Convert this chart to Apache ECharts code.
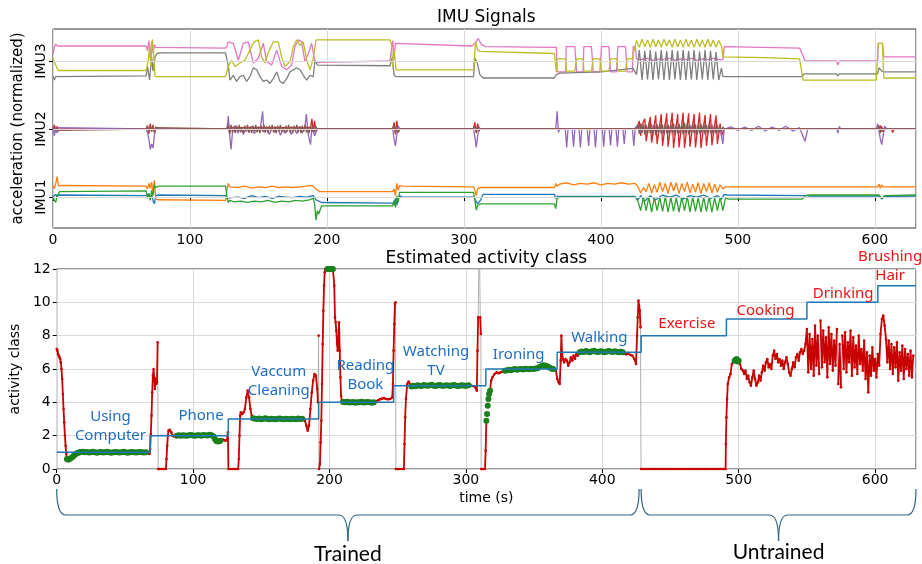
<!DOCTYPE html>
<html>
<head>
<meta charset="utf-8">
<title>IMU Signals / Estimated activity class</title>
<script src="https://cdn.jsdelivr.net/npm/echarts@6/dist/echarts.min.js"></script>
<style>html,body{margin:0;padding:0;background:#fff}#main{width:922px;height:564px}</style>
</head>
<body>
<div id="main"></div>
<script>
// tick labels of the top panel
var imuNames = ['IMU1', 'IMU2', 'IMU3'];
var timeMax = 630;

// IMU signals, [time (s), value relative to the IMU baseline]
var imu1Blue = [[0,0.0],[2,0.04],[3,0.0],[4,0.03],[68,0.02],[69,0.0],[70,0.05],[71,-0.02],[72,0.03],[73,-0.05],[74,-0.1],[75,0.02],[77,0.03],[126,0.02],[127,-0.02],[128,-0.04],[130,-0.01],[135,0.0],[140,-0.02],[145,0.02],[150,-0.01],[155,0.01],[160,-0.02],[165,0.01],[170,0.0],[175,-0.01],[180,0.01],[185,0.0],[190,0.02],[192,-0.04],[194,-0.06],[196,-0.08],[248,-0.09],[249,-0.12],[250,-0.02],[251,-0.12],[252,-0.02],[253,0.02],[255,0.0],[307,0.0],[308,-0.02],[310,-0.1],[312,-0.05],[314,0.04],[366,0.04],[367,-0.02],[368,0.01],[425,0.01],[427,-0.04],[429,0.02],[432,-0.06],[436,0.02],[440,-0.04],[445,0.03],[450,0.0],[455,0.03],[460,-0.03],[465,0.02],[470,0.0],[475,0.03],[480,-0.02],[485,0.02],[488,-0.03],[490,0.04],[492,0.03],[550,0.02],[552,0.015],[603,0.015],[605,-0.03],[607,0.01],[630,0.015]];
var imu1Orange = [[0,0.17],[1,0.12],[2,0.2],[3,0.3],[4,0.16],[6,0.17],[68,0.16],[69,0.12],[70,0.2],[71,0.13],[72,0.22],[73,0.05],[74,0.25],[75,-0.03],[77,-0.04],[126,-0.05],[127,0.1],[128,0.2],[129,0.15],[135,0.14],[140,0.16],[145,0.13],[150,0.15],[155,0.14],[160,0.16],[165,0.14],[170,0.15],[175,0.14],[180,0.15],[185,0.16],[189,0.17],[191,0.14],[193,0.1],[195,0.08],[248,0.08],[249,0.12],[250,0.02],[251,0.2],[252,0.1],[253,0.17],[255,0.16],[307,0.15],[308,0.1],[309,0.02],[310,0.12],[312,0.14],[366,0.14],[367,0.2],[368,0.16],[370,0.19],[375,0.21],[380,0.18],[385,0.2],[390,0.19],[395,0.21],[400,0.18],[405,0.2],[410,0.19],[415,0.21],[420,0.19],[425,0.2],[427,0.15],[429,0.06],[431,0.14],[433,0.08],[435,0.2],[437,0.06],[439,0.18],[441,0.07],[443,0.22],[445,0.08],[447,0.2],[449,0.05],[451,0.22],[453,0.09],[455,0.21],[457,0.05],[459,0.2],[461,0.08],[463,0.22],[465,0.06],[467,0.19],[469,0.07],[471,0.21],[473,0.05],[475,0.2],[477,0.08],[479,0.21],[481,0.06],[483,0.19],[485,0.07],[487,0.18],[489,0.12],[491,0.15],[602,0.15],[603,0.19],[604,0.13],[605,0.18],[606,0.15],[630,0.15]];
var imu1Green = [[0,0.0],[1,-0.05],[2,-0.08],[3,0.02],[5,0.08],[68,0.09],[69,-0.02],[70,0.05],[71,-0.05],[72,0.1],[73,0.02],[74,0.18],[75,0.14],[77,0.16],[126,0.16],[127,0.0],[128,-0.08],[129,-0.05],[132,-0.07],[137,-0.06],[142,-0.08],[147,-0.06],[152,-0.07],[157,-0.05],[162,-0.08],[167,-0.06],[172,-0.07],[177,-0.05],[182,-0.06],[187,-0.04],[190,-0.02],[191,-0.1],[192,-0.34],[193,-0.2],[194,-0.25],[196,-0.13],[248,-0.13],[249,-0.05],[250,-0.15],[251,0.02],[252,-0.08],[253,0.07],[255,0.07],[307,0.07],[308,-0.05],[309,-0.19],[310,-0.12],[312,-0.1],[366,-0.1],[367,-0.17],[368,-0.02],[370,0.0],[425,0.0],[427,-0.06],[429,-0.2],[431,0.0],[433,-0.2],[435,0.0],[437,-0.22],[439,-0.01],[441,-0.2],[443,0.0],[445,-0.21],[447,0.01],[449,-0.22],[451,0.0],[453,-0.21],[455,-0.01],[457,-0.22],[459,0.0],[461,-0.2],[463,0.01],[465,-0.22],[467,0.0],[469,-0.21],[471,-0.01],[473,-0.22],[475,0.0],[477,-0.21],[479,0.0],[481,-0.22],[483,-0.01],[485,-0.2],[487,0.0],[489,-0.2],[491,-0.01],[493,-0.03],[547,-0.03],[549,0.02],[552,0.03],[603,0.03],[605,-0.02],[607,0.02],[630,0.03]];
var imu2Red = [[0,0.0],[1,0.06],[2,-0.05],[3,0.04],[4,-0.03],[5,0.0],[68,0.0],[69,0.05],[70,-0.07],[71,0.08],[72,-0.04],[73,0.06],[74,-0.05],[75,0.03],[76,0.0],[127,0.0],[128,0.08],[129,-0.06],[130,0.02],[188,0.02],[189,0.15],[190,-0.05],[191,0.12],[192,-0.04],[193,0.0],[248,0.0],[249,0.1],[250,-0.08],[251,0.12],[252,-0.05],[253,0.0],[307,0.0],[308,0.1],[309,-0.06],[310,0.08],[311,0.0],[426,0.0],[428,0.12],[429,-0.1],[430,0.06],[432,0.15],[433,-0.18],[436,0.18],[437,-0.2],[440,0.2],[441,-0.22],[444,0.22],[445,-0.25],[448,0.23],[449,-0.26],[452,0.24],[453,-0.28],[456,0.22],[457,-0.27],[460,0.24],[461,-0.28],[464,0.23],[465,-0.26],[468,0.22],[469,-0.27],[472,0.24],[473,-0.28],[476,0.21],[477,-0.25],[480,0.22],[481,-0.24],[484,0.2],[485,-0.22],[487,0.08],[488,-0.1],[490,0.0],[603,0.0],[604,0.05],[605,-0.04],[606,0.0],[612,0.0],[613,-0.05],[614,0.0],[630,0.0]];
var imu2Purple = [[0,0.0],[1,-0.1],[2,0.03],[3,-0.06],[4,0.02],[5,0.0],[68,0.0],[69,-0.05],[70,-0.15],[71,-0.3],[72,-0.22],[73,-0.28],[74,-0.1],[75,0.03],[76,0.0],[127,0.0],[128,0.19],[129,-0.1],[130,-0.3],[131,-0.05],[133,0.05],[135,-0.06],[137,0.02],[139,-0.08],[141,0.03],[143,-0.05],[145,0.04],[147,-0.07],[149,0.02],[151,-0.04],[153,0.26],[154,-0.05],[156,0.02],[158,-0.08],[160,0.03],[162,-0.05],[164,0.02],[166,-0.09],[168,0.01],[170,-0.06],[172,0.03],[174,-0.08],[176,0.02],[178,-0.07],[180,0.04],[182,-0.06],[184,0.05],[185,0.22],[186,-0.05],[188,-0.23],[189,0.02],[191,-0.1],[193,0.0],[248,0.0],[249,-0.15],[250,-0.25],[251,-0.08],[252,0.05],[253,0.0],[307,0.0],[308,-0.12],[309,-0.27],[310,-0.1],[311,0.03],[312,0.0],[367,0.0],[368,0.26],[369,-0.05],[370,0.0],[374,0.0],[375,-0.27],[376,0.0],[379,0.0],[380,-0.26],[381,0.0],[384,0.0],[385,-0.27],[386,0.0],[390,0.0],[391,-0.25],[392,0.0],[395,0.0],[396,-0.27],[397,0.0],[401,0.0],[402,-0.26],[403,0.0],[406,0.0],[407,-0.24],[408,0.0],[411,0.0],[412,-0.26],[413,0.0],[416,0.0],[417,-0.22],[418,0.0],[423,0.0],[424,-0.25],[425,0.02],[427,0.06],[429,-0.05],[431,0.05],[433,-0.06],[435,0.04],[437,-0.05],[439,0.06],[441,-0.04],[443,0.05],[445,-0.06],[447,0.04],[449,-0.05],[451,0.06],[453,-0.04],[455,0.05],[457,-0.06],[459,0.04],[461,-0.05],[463,0.06],[465,-0.04],[467,0.05],[469,-0.06],[471,0.04],[473,-0.05],[475,0.06],[477,-0.04],[479,0.05],[481,-0.06],[483,0.04],[485,-0.05],[487,0.03],[489,-0.22],[490,0.0],[495,0.03],[500,-0.02],[505,0.03],[510,-0.02],[515,0.04],[520,-0.03],[525,0.03],[530,-0.02],[535,0.04],[540,-0.03],[545,0.02],[549,-0.18],[551,0.0],[572,0.0],[573,-0.06],[574,0.04],[575,0.0],[601,0.0],[602,0.08],[604,-0.15],[605,-0.23],[606,-0.1],[607,0.04],[609,0.0],[630,0.0]];
var imu2Brown = [[0,0],[1,0.03],[2,-0.03],[3,0.02],[4,-0.02],[5,0],[68,0],[69,0.04],[70,-0.04],[71,0.05],[72,-0.03],[73,0.04],[74,-0.05],[75,0.02],[76,0],[127,0],[128,0.05],[129,-0.07],[130,0.06],[131,-0.05],[132,0.04],[133,-0.06],[134,0.05],[135,-0.03],[136,0.06],[137,-0.05],[138,0.03],[139,-0.06],[140,0.05],[141,-0.04],[142,0.06],[143,-0.05],[144,0.04],[145,-0.06],[146,0.05],[147,-0.03],[148,0.06],[149,-0.05],[150,0.04],[151,-0.06],[152,0.05],[153,-0.04],[154,0.06],[155,-0.05],[156,0.04],[157,-0.06],[158,0.05],[159,-0.03],[160,0.06],[161,-0.05],[162,0.04],[163,-0.06],[164,0.05],[165,-0.04],[166,0.06],[167,-0.05],[168,0.03],[169,-0.06],[170,0.05],[171,-0.04],[172,0.06],[173,-0.05],[174,0.04],[175,-0.06],[176,0.05],[177,-0.03],[178,0.06],[179,-0.05],[180,0.04],[181,-0.06],[182,0.05],[183,-0.04],[184,0.06],[185,-0.05],[186,0.04],[187,-0.06],[188,0.05],[189,-0.04],[190,0.06],[191,-0.05],[192,0.03],[193,0],[248,0],[249,0.05],[250,-0.06],[251,0.04],[252,-0.05],[253,0],[307,0],[308,0.05],[309,-0.05],[310,0.04],[311,-0.03],[312,0],[426,0],[427,0.06],[428,-0.07],[429,0.08],[430,-0.06],[431,0.07],[432,-0.08],[433,0.06],[434,-0.07],[435,0.09],[436,-0.06],[437,0.07],[438,-0.08],[439,0.06],[440,-0.09],[441,0.07],[442,-0.06],[443,0.08],[444,-0.07],[445,0.06],[446,-0.08],[447,0.09],[448,-0.06],[449,0.07],[450,-0.08],[451,0.06],[452,-0.07],[453,0.08],[454,-0.09],[455,0.06],[456,-0.07],[457,0.08],[458,-0.06],[459,0.07],[460,-0.08],[461,0.09],[462,-0.06],[463,0.07],[464,-0.08],[465,0.06],[466,-0.07],[467,0.08],[468,-0.06],[469,0.07],[470,-0.09],[471,0.06],[472,-0.07],[473,0.08],[474,-0.06],[475,0.07],[476,-0.08],[477,0.06],[478,-0.07],[479,0.08],[480,-0.06],[481,0.07],[482,-0.08],[483,0.06],[484,-0.07],[485,0.06],[486,-0.05],[487,0.05],[488,-0.04],[489,0.03],[490,0],[602,0],[603,0.05],[604,-0.06],[605,0.04],[606,-0.04],[607,0],[630,0]];
var imu3Pink = [[0,0.1],[1,0.2],[2,0.25],[3,0.22],[68,0.22],[69,0.15],[70,0.3],[71,0.05],[72,0.28],[73,0.12],[74,0.24],[75,0.2],[76,0.19],[126,0.19],[127,0.22],[128,0.28],[131.6,0.26],[135.3,0.01],[138.9,0.26],[142.6,0.28],[146.2,-0.03],[149.9,0.04],[153.5,0.26],[156,-0.01],[159.6,-0.06],[163.3,0.16],[166.9,-0.08],[170.6,-0.13],[174.2,-0.06],[176.6,0.21],[179.1,0.31],[181.5,0.28],[183.9,-0.01],[186.4,0.11],[188.8,0.26],[191.2,-0.01],[193,-0.02],[246,0.0],[247,0.16],[248,0.3],[249,0.04],[250,0.26],[251,0.25],[306,0.22],[308.7,0.28],[310.4,0.33],[312.8,0.24],[316,0.21],[366,0.2],[367.5,0.2],[368,-0.16],[374.4,-0.16],[374.6,0.21],[381,0.21],[382.2,-0.16],[387,-0.16],[387.5,0.21],[393.1,0.21],[394.3,-0.16],[399.2,-0.16],[400.4,0.21],[405.8,0.21],[407,-0.16],[411.4,-0.16],[412.3,0.21],[417.9,0.21],[419.1,-0.16],[423,-0.16],[423.5,0.21],[425,0.21],[426,0.03],[430,0.02],[434,0.04],[438,0.01],[442,0.03],[446,0.02],[450,0.04],[454,0.01],[458,0.03],[462,0.02],[466,0.04],[470,0.01],[474,0.03],[478,0.02],[482,0.04],[486,0.02],[489,0.02],[490,0.21],[545,0.19],[547,0.1],[549,0.0],[572,0.0],[573,-0.06],[574,0.0],[602,0.0],[602.5,0.26],[605.5,0.26],[606.5,0.06],[630,0.06]];
var imu3Gray = [[0,-0.22],[1,-0.28],[2,-0.23],[68,-0.22],[69,-0.08],[70.5,-0.28],[72,0.06],[73,-0.15],[74.5,0.06],[76,0.11],[78,0.12],[126,0.12],[128,-0.08],[129.2,-0.28],[131.6,-0.21],[134,-0.3],[136.5,-0.23],[138.9,-0.21],[141.4,-0.3],[143.8,-0.23],[146.2,-0.1],[148.7,-0.13],[151.1,-0.23],[153.5,-0.3],[156,-0.28],[158.4,-0.33],[160.8,-0.26],[163.3,-0.16],[165.7,-0.3],[168.1,-0.33],[170.6,-0.26],[173,-0.16],[175.4,-0.13],[177.9,-0.1],[180.3,-0.13],[182.7,-0.21],[185.2,-0.28],[187.6,-0.21],[190,-0.23],[191.2,0.01],[193,-0.06],[246,-0.07],[247.5,0.04],[249,-0.2],[250,-0.23],[307,-0.23],[308,0.04],[309.8,-0.03],[311.6,-0.2],[314,-0.25],[366,-0.25],[367.5,-0.2],[370,-0.18],[400,-0.16],[423.5,-0.11],[426,-0.2],[428,0.16],[430,-0.28],[432,0.15],[434,-0.27],[436,0.16],[438,-0.28],[440,0.14],[442,-0.27],[444,0.16],[446,-0.28],[448,0.15],[450,-0.28],[452,0.16],[454,-0.27],[456,0.15],[458,-0.28],[460,0.16],[462,-0.28],[464,0.15],[466,-0.27],[468,0.16],[470,-0.28],[472,0.14],[474,-0.27],[476,0.16],[478,-0.28],[480,0.15],[482,-0.27],[484,0.13],[486,-0.28],[488,-0.1],[489,-0.23],[547,-0.23],[548,-0.19],[572,-0.19],[573,-0.22],[574,-0.19],[602,-0.19],[603,-0.1],[605,-0.15],[607,-0.16],[630,-0.16]];
var imu3Olive = [[0,0.04],[1,0.02],[3,-0.11],[4,-0.14],[68,-0.14],[69.6,0.01],[70.5,0.2],[71.5,-0.08],[72.5,0.32],[73.5,0.1],[74.5,-0.23],[126,-0.23],[128,-0.08],[130.4,0.01],[132.8,-0.08],[136.5,-0.03],[140.1,0.01],[143.8,0.16],[146.7,0.28],[149.9,0.31],[152.3,0.06],[154.7,-0.03],[157.9,0.16],[160.8,0.28],[164.5,0.28],[166.9,0.06],[169.3,-0.08],[173,-0.01],[175.4,0.21],[177.9,0.31],[180.3,0.23],[182.7,0.28],[185.2,0.01],[187.6,-0.13],[190,0.04],[192,0.31],[246,0.31],[247,0.26],[248,-0.08],[249,0.16],[250.5,-0.13],[307,-0.13],[308.5,0.28],[310,0.16],[312,0.14],[366,0.11],[367.5,-0.16],[368,0.03],[374.4,0.03],[374.6,-0.15],[381,-0.15],[382.2,0.03],[387,0.03],[387.5,-0.15],[393.1,-0.15],[394.3,0.03],[399.2,0.03],[400.4,-0.15],[405.8,-0.15],[407,0.03],[411.4,0.03],[412.3,-0.15],[417.9,-0.15],[419.1,0.03],[423,0.03],[423.5,0.1],[426,0.3],[428,0.2],[430,0.32],[432,0.21],[434,0.31],[436,0.2],[438,0.32],[440,0.21],[442,0.31],[444,0.2],[446,0.32],[448,0.22],[450,0.31],[452,0.2],[454,0.32],[456,0.21],[458,0.31],[460,0.2],[462,0.32],[464,0.21],[466,0.31],[468,0.2],[470,0.32],[472,0.21],[474,0.31],[476,0.2],[478,0.32],[480,0.21],[482,0.31],[484,0.2],[486,0.3],[488,0.22],[489,0.06],[520,0.05],[545,0.03],[547.6,-0.28],[601,-0.28],[602.4,0.26],[605.5,0.26],[606.5,-0.25],[630,-0.25]];

// ground truth class: start time of each activity and its class
var classStart = [0, 68.5, 125.8, 192, 247, 314.6, 366.9, 428.5, 491, 550, 602, 630];
var classValue = [1, 2, 3, 4, 5, 6, 7, 8, 9, 10, 11, 11];

// estimated class, [time (s), class]
var predicted = [[0,7.2],[0.5,7.1],[1,6.9],[1.5,6.8],[2,6.7],[2.5,6.6],[3,6.4],[3.5,6.0],[4,5.4],[4.5,4.5],[5,3.6],[5.5,2.8],[6,2.0],[6.5,1.4],[7,0.9],[7.5,0.6],[8.5,0.55],[9.5,0.6],[10.5,0.66],[11.5,0.72],[12.5,0.8],[13.5,0.87],[14.5,0.93],[15.5,0.97],[16.5,0.99],[17.5,1.02],[19,1.03],[20.5,1.0],[22,1.02],[23.5,0.99],[25,1.01],[26.5,1.03],[28,1.0],[29.5,0.98],[31,1.01],[32.5,1.02],[34,0.99],[35.5,1.0],[37,1.03],[38.5,1.01],[40,0.98],[41.5,1.0],[43,1.02],[44.5,1.01],[46,0.99],[47.5,1.0],[49,1.03],[50.5,1.0],[52,0.98],[53.5,1.01],[55,1.02],[56.5,1.0],[58,0.99],[59.5,1.01],[61,1.02],[62.5,1.0],[64,0.99],[65.5,1.01],[67,0.95],[68,0.9],[68.5,1.2],[69,2.1],[69.5,3.2],[70,4.6],[70.5,5.6],[71,6.0],[71.5,5.5],[72,4.8],[72.5,5.4],[73,5.1],[73.5,5.2],[74,7.6],[74.4,0],[75.5,0],[77,0],[78.5,0],[80,0],[80.5,0.6],[81,1.4],[81.5,2.0],[82,2.3],[83,2.35],[84,2.2],[85,2.0],[86,1.95],[87,1.96],[88,2.0],[89.5,2.02],[91,2.0],[92.5,2.03],[94,2.01],[95.5,1.99],[97,2.02],[98.5,2.04],[100,2.01],[101.5,2.0],[103,2.03],[104.5,2.02],[106,2.0],[107.5,2.04],[109,2.03],[110.5,2.01],[112,2.05],[113.5,2.03],[115,1.95],[116,1.8],[117,1.68],[118,1.65],[119,1.66],[120,1.7],[121,1.74],[122,1.76],[123,1.72],[124,1.7],[125,1.8],[125.5,2.2],[125.9,0],[127.5,0],[129,0],[130.5,0],[132,0],[133,0],[133.5,0.6],[134,2.0],[134.5,3.2],[135,3.4],[136,3.3],[137,3.4],[138,3.6],[139,4.3],[140,4.7],[141,4.3],[142,3.6],[143,3.2],[144,3.05],[145.5,3.02],[147,3.0],[148.5,3.03],[150,2.98],[151.5,3.01],[153,3.04],[154.5,3.0],[156,2.99],[157.5,3.02],[159,3.0],[160.5,2.98],[162,3.01],[163.5,3.03],[165,3.0],[166.5,2.99],[168,3.01],[169.5,3.0],[171,2.98],[172.5,3.02],[174,3.0],[175.5,2.99],[177,3.03],[178.5,3.0],[180,3.01],[181,3.05],[182,2.9],[183,2.6],[184,2.3],[185,2.6],[186,3.6],[187,4.6],[188,5.3],[189,5.7],[190,5.6],[191,4.8],[191.5,4.0],[192,8.0],[192.3,0],[193,0.3],[193.5,1.6],[194,2.9],[194.5,5.1],[195,7.5],[195.5,9.5],[196,11.0],[196.5,11.8],[197,12.3],[198,12.5],[198.5,12],[199.5,12],[200.5,12],[201.5,12],[202.5,12],[203.5,11.0],[204,9.1],[204.5,8.8],[205,8.3],[205.5,7.5],[206,7.1],[206.5,7.6],[207,8.8],[207.5,7.1],[208,5.5],[208.5,4.4],[209,4.1],[210,4.02],[211.5,4.0],[213,4.03],[214.5,3.99],[216,4.0],[217.5,4.02],[219,3.98],[220.5,4.01],[222,4.0],[223.5,4.03],[225,3.99],[226.5,4.0],[228,4.02],[229.5,4.0],[231,3.98],[232.5,4.01],[234,4.05],[235.5,4.12],[237,4.18],[238.5,4.22],[240,4.25],[241.5,4.2],[243,4.18],[244.5,4.2],[246,4.3],[246.5,5.1],[247,7.1],[247.5,8.7],[248,9.9],[248.4,10.0],[248.7,0],[250,0],[251.5,0],[253,0],[254.5,0],[255,1.5],[255.5,3.1],[256,4.2],[257,5.1],[258,5.25],[259,5.1],[260,4.95],[261.5,5.0],[263,4.97],[264.5,5.03],[266,5.0],[267.5,4.98],[269,5.04],[270.5,5.01],[272,4.99],[273.5,5.03],[275,5.05],[276.5,5.0],[278,4.98],[279.5,5.02],[281,5.04],[282.5,5.0],[284,4.99],[285.5,5.03],[287,5.01],[288.5,4.98],[290,5.02],[291.5,5.04],[293,5.0],[294.5,4.98],[296,5.01],[297.5,5.03],[299,5.0],[300.5,4.99],[302,5.02],[303.5,5.0],[305,4.98],[306.5,4.95],[308,4.7],[308.5,7.1],[309,9.1],[309.5,12.5],[310,13],[310.5,9.1],[311,8.1],[311.2,0],[312.5,0],[314,0],[314.5,1.1],[315,2.9],[315.5,3.3],[316,3.8],[316.5,4.2],[317,4.5],[317.7,4.7],[318.5,5.3],[319.5,5.5],[321,5.7],[322.5,5.8],[324,5.75],[325.5,5.8],[327,5.85],[328.6,5.9],[330,5.92],[331.5,5.95],[333,5.93],[334.5,5.97],[336,6.0],[337.5,5.96],[339,5.98],[340.5,6.0],[342,5.97],[343.5,6.01],[345,6.0],[346.5,5.98],[348,6.02],[349.5,6.0],[351,6.03],[352.5,6.05],[354,6.12],[355.5,6.18],[357,6.22],[358.5,6.2],[360,6.15],[361.5,6.08],[363,6.02],[364,6.0],[365,5.98],[366,5.9],[367,5.4],[368,5.2],[368.8,5.1],[369.5,6.5],[370,8.0],[370.5,7.0],[371,6.6],[372,6.4],[373,6.6],[374,6.5],[375,6.2],[376,6.4],[377,6.7],[378,6.5],[379,6.8],[380,6.6],[381,6.9],[382,6.8],[383.4,7.0],[385,7.05],[386.5,7.02],[388,7.08],[389.5,7.03],[391,7.0],[392.5,7.06],[394,7.1],[395.5,7.04],[397,7.02],[398.5,7.07],[400,7.05],[401.5,7.0],[403,7.03],[404.5,7.08],[406,7.05],[407.5,7.02],[409,7.06],[410.5,7.03],[412,7.0],[413.5,7.04],[415,7.0],[416,6.92],[417.5,6.88],[419,6.9],[420.5,6.85],[422,6.8],[423.5,6.6],[424.7,6.3],[425.5,8.0],[426,9.1],[426.5,10.1],[427,9.8],[427.5,9.5],[428,8.5],[428.4,0],[430,0],[431.5,0],[433,0],[434.5,0],[436,0],[437.5,0],[439,0],[440.5,0],[442,0],[443.5,0],[445,0],[446.5,0],[448,0],[449.5,0],[451,0],[452.5,0],[454,0],[455.5,0],[457,0],[458.5,0],[460,0],[461.5,0],[463,0],[464.5,0],[466,0],[467.5,0],[469,0],[470.5,0],[472,0],[473.5,0],[475,0],[476.5,0],[478,0],[479.5,0],[481,0],[482.5,0],[484,0],[485.5,0],[487,0],[488.5,0],[490,0],[490.4,0],[490.6,1.5],[491,3.1],[491.5,4.2],[492,5.1],[493,5.5],[494,5.7],[495,6.3],[496.5,6.5],[497,6.5],[497.8,6.55],[498.5,6.6],[499.2,6.45],[500,6.5],[501,6.3],[502,6.0],[503,5.9],[504,5.7],[505,5.9],[506,5.4],[507,5.6],[508,5.2],[509,5.0],[510,5.5],[511,5.9],[512,5.4],[513,5.0],[514,5.2],[515,5.6],[516,5.3],[517,5.8],[518,6.2],[519,5.9],[520,6.4],[521,6.6],[522,6.1],[523,6.3],[524,6.0],[525,6.8],[526,7.1],[527,6.6],[528,6.9],[529,6.4],[530,6.6],[531,6.2],[532,6.5],[533,6.0],[534,6.4],[535,6.7],[536,6.3],[537,5.8],[538,5.6],[539,6.0],[540,6.4],[541,6.1],[542,6.7],[543,6.9],[544,6.5],[545,7.0],[546,7.2],[547,6.9],[548,7.1],[549,7.5],[550,8.4],[551,5.8],[552,8.1],[553,6.0],[554,7.8],[555,5.6],[556,8.6],[557,6.2],[558,8.0],[559,5.7],[560,8.9],[561,6.1],[562,8.3],[563,6.4],[564,7.9],[565,5.5],[566,8.5],[567,6.3],[568,8.1],[569,5.9],[570,7.7],[571,6.2],[572,8.4],[573,5.1],[574,7.5],[575,4.9],[576,8.0],[577,6.0],[578,8.2],[579,5.8],[580,7.6],[581,6.4],[582,8.3],[583,5.6],[584,7.9],[585,6.1],[586,7.4],[587,5.7],[588,8.0],[589,6.3],[590,7.2],[591,5.9],[592,7.7],[593,5.4],[594,7.0],[595,4.6],[596,6.8],[597,5.6],[598,7.3],[599,5.9],[600,6.6],[601,5.5],[602,6.9],[603,6.2],[604,8.1],[605,9.0],[606,9.2],[607,8.6],[608,7.8],[609,6.4],[610,7.7],[611,6.0],[612,7.5],[613,5.7],[614,7.3],[615,6.1],[616,7.6],[617,5.3],[618,7.0],[619,5.9],[620,7.4],[621,5.4],[622,7.2],[623,6.0],[624,6.9],[625,5.6],[626,7.1],[627,5.5],[628,6.8]];

// time spans where the estimate is drawn green
var greenRanges = [[7.5,66],[88,120],[144,180.5],[198.5,203],[209.5,233],[260,302],[315,317.7],[328.6,364],[383.4,415],[497,500]];

// activity labels: [time, class, text, trained]
var annotations = [
  [39.4, 2.58, 'Using\nComputer', true],
  [105.8, 3.18, 'Phone', true],
  [162.8, 5.25, 'Vaccum\nCleaning', true],
  [226.3, 5.61, 'Reading\nBook', true],
  [278.1, 6.45, 'Watching\nTV', true],
  [338.7, 6.84, 'Ironing', true],
  [397.8, 7.86, 'Walking', true],
  [462, 8.7, 'Exercise', false],
  [519.7, 9.48, 'Cooking', false],
  [576.6, 10.5, 'Drinking', false],
  [611, 12.15, 'Brushing\nHair', false]
];
var trainedEnd = 427;

var signals = [
  { data: imu1Blue, imu: 0, color: '#1f77b4' },
  { data: imu1Orange, imu: 0, color: '#ff7f0e' },
  { data: imu1Green, imu: 0, color: '#2ca02c' },
  { data: imu2Red, imu: 1, color: '#d62728' },
  { data: imu2Purple, imu: 1, color: '#9467bd' },
  { data: imu2Brown, imu: 1, color: '#8c564b' },
  { data: imu3Pink, imu: 2, color: '#e377c2' },
  { data: imu3Gray, imu: 2, color: '#7f7f7f' },
  { data: imu3Olive, imu: 2, color: '#bcbd22' }
];

var font = 'DejaVu Sans';
var blueText = '#1f6fc0', redText = '#ee1111';
var jumpSize = 3;

function isGreen(t) {
  for (var i = 0; i < greenRanges.length; i++) {
    if (t >= greenRanges[i][0] && t <= greenRanges[i][1]) return true;
  }
  return false;
}

// split the estimate into small steps (red) and big jumps (gray)
var redPath = [], grayPath = [];
for (var i = 1; i < predicted.length; i++) {
  var a = predicted[i - 1], b = predicted[i];
  if (Math.abs(b[1] - a[1]) > jumpSize) {
    grayPath.push(a, b, null);
  } else if (!(isGreen(a[0]) && isGreen(b[0]))) {
    redPath.push(a, b, null);
  }
}

var series = [];
signals.forEach(function (s, i) {
  var item = {
    type: 'line', xAxisIndex: 0, yAxisIndex: 0,
    showSymbol: false, animation: false, silent: true,
    data: s.data.map(function (p) { return [p[0], p[1] + s.imu]; }),
    lineStyle: { color: s.color, width: 1.3 },
    itemStyle: { color: s.color }
  };
  if (i === 0) {
    item.markLine = {
      silent: true, symbol: 'none', label: { show: false },
      lineStyle: { color: '#d9d9d9', width: 1, type: 'solid' },
      data: [0, 1, 2].map(function (v) { return { yAxis: v }; })
    };
  }
  series.push(item);
});

series.push({
  type: 'line', xAxisIndex: 1, yAxisIndex: 1, connectNulls: false, z: 3,
  showSymbol: false, animation: false, silent: true,
  data: grayPath,
  lineStyle: { color: '#b0b0b0', width: 1 }
});
series.push({
  type: 'line', xAxisIndex: 1, yAxisIndex: 1, connectNulls: false, z: 3,
  showSymbol: false, animation: false, silent: true,
  data: redPath,
  lineStyle: { color: '#c80000', width: 1.8 }
});
series.push({
  type: 'scatter', xAxisIndex: 1, yAxisIndex: 1, animation: false, silent: true, z: 4,
  symbolSize: 2.6,
  data: predicted.filter(function (p) { return !isGreen(p[0]); }),
  itemStyle: { color: '#c80000', opacity: 1 }
});
series.push({
  type: 'scatter', xAxisIndex: 1, yAxisIndex: 1, animation: false, silent: true, z: 5,
  symbolSize: 6,
  data: predicted.filter(function (p) { return isGreen(p[0]); }),
  itemStyle: { color: '#1a801a', opacity: 1 }
});
// ground truth step line
series.push({
  type: 'line', xAxisIndex: 1, yAxisIndex: 1, step: 'end', z: 6,
  showSymbol: false, animation: false, silent: true,
  data: classStart.map(function (t, i) { return [t, classValue[i]]; }),
  lineStyle: { color: '#1f77b4', width: 1.5 }
});
series.push({
  type: 'scatter', xAxisIndex: 1, yAxisIndex: 1, animation: false, silent: true, z: 7,
  symbolSize: 0, clip: false,
  itemStyle: { opacity: 1 },
  data: annotations.map(function (a) {
    return {
      value: [a[0], a[1]], name: a[2],
      label: { color: a[3] ? blueText : redText }
    };
  }),
  label: {
    show: true, position: 'inside', formatter: '{b}',
    fontSize: 15, lineHeight: 19, fontFamily: 'Noto Sans',
    textBorderWidth: 0, textShadowBlur: 0, opacity: 1
  }
});

var axisText = { color: '#000', fontSize: 14, fontFamily: font };
var gridLine = { show: true, lineStyle: { color: '#d9d9d9', width: 1 } };

var myChart = echarts.init(document.getElementById('main'));
var option = {
  backgroundColor: '#fff',
  animation: false,
  grid: [
    { left: 53, right: 6, top: 29, height: 199, show: true, borderColor: '#333', borderWidth: 1, backgroundColor: 'transparent' },
    { left: 53, right: 6, top: 269, height: 200, show: true, borderColor: '#333', borderWidth: 1, backgroundColor: 'transparent' }
  ],
  xAxis: [
    {
      gridIndex: 0, type: 'value', min: 0, max: timeMax, interval: 100,
      axisLine: { show: false }, axisTick: { show: true, length: 4, lineStyle: { color: '#000' } },
      axisLabel: Object.assign({ margin: 5, showMaxLabel: false }, axisText),
      splitLine: gridLine
    },
    {
      gridIndex: 1, type: 'value', min: 0, max: timeMax, interval: 100,
      name: 'time (s)', nameLocation: 'middle', nameGap: 22,
      nameTextStyle: { color: '#000', fontSize: 14, fontFamily: font },
      axisLine: { show: false }, axisTick: { show: true, length: 4, lineStyle: { color: '#000' } },
      axisLabel: Object.assign({ margin: 4, showMaxLabel: false }, axisText),
      splitLine: gridLine
    }
  ],
  yAxis: [
    {
      gridIndex: 0, type: 'value', min: -0.455, max: 2.47,
      name: 'acceleration (normalized)', nameLocation: 'middle', nameGap: 20,
      nameTextStyle: { color: '#000', fontSize: 15, fontFamily: font },
      axisLine: { show: false },
      axisTick: { show: true, length: 4, customValues: [0, 1, 2], lineStyle: { color: '#000' } },
      axisLabel: Object.assign({
        rotate: 90, margin: 5, customValues: [0, 1, 2],
        formatter: function (v) { return imuNames[Math.round(v)]; }
      }, axisText),
      splitLine: { show: false }
    },
    {
      gridIndex: 1, type: 'value', min: 0, max: 12, interval: 2,
      name: 'activity class', nameLocation: 'middle', nameGap: 28,
      nameTextStyle: { color: '#000', fontSize: 14, fontFamily: font },
      axisLine: { show: false }, axisTick: { show: true, length: 4, lineStyle: { color: '#000' } },
      axisLabel: Object.assign({ margin: 6 }, axisText),
      splitLine: gridLine
    }
  ],
  series: series
};
myChart.setOption(option);

// titles, braces and their labels
var px = function (t) { return myChart.convertToPixel({ xAxisIndex: 1 }, t); };
var plotLeft = px(0), plotRight = px(timeMax);
var gridMid = (plotLeft + plotRight) / 2;
var braceStyle = { stroke: '#2e6386', lineWidth: 1.2, fill: null };

function curve(x1, y1, cx, cy, x2, y2) {
  return { type: 'bezierCurve', silent: true, shape: { x1: x1, y1: y1, cpx1: cx, cpy1: cy, x2: x2, y2: y2 }, style: braceStyle };
}
function straight(x1, y1, x2, y2) {
  return { type: 'line', silent: true, shape: { x1: x1, y1: y1, x2: x2, y2: y2 }, style: braceStyle };
}
function brace(xa, xb) {
  var xm = (xa + xb) / 2, y0 = 489, y1 = 515, y2 = 541, r = 9;
  return [
    curve(xa, y0, xa, y1, xa + r, y1),
    straight(xa + r, y1, xm - r, y1),
    curve(xm - r, y1, xm, y1, xm, y2),
    curve(xm, y2, xm, y1, xm + r, y1),
    straight(xm + r, y1, xb - r, y1),
    curve(xb - r, y1, xb, y1, xb, y0)
  ];
}
function label(x, y, text, size, family) {
  return {
    type: 'text', x: x, y: y, silent: true,
    style: {
      text: text, fill: '#000', fontSize: size, fontFamily: family,
      align: 'center', verticalAlign: 'middle', textAlign: 'center', textVerticalAlign: 'middle'
    }
  };
}
var xSplit = px(trainedEnd);
myChart.setOption({
  graphic: [
    label(gridMid, 18, 'IMU Signals', 17, font),
    label(gridMid, 259, 'Estimated activity class', 17, font),
    label((plotLeft + xSplit) / 2, 554, 'Trained', 21, 'Lato'),
    label((xSplit + 2 + plotRight) / 2, 552, 'Untrained', 21, 'Lato')
  ].concat(brace(plotLeft, xSplit), brace(xSplit + 2, plotRight))
});
</script>
</body>
</html>
